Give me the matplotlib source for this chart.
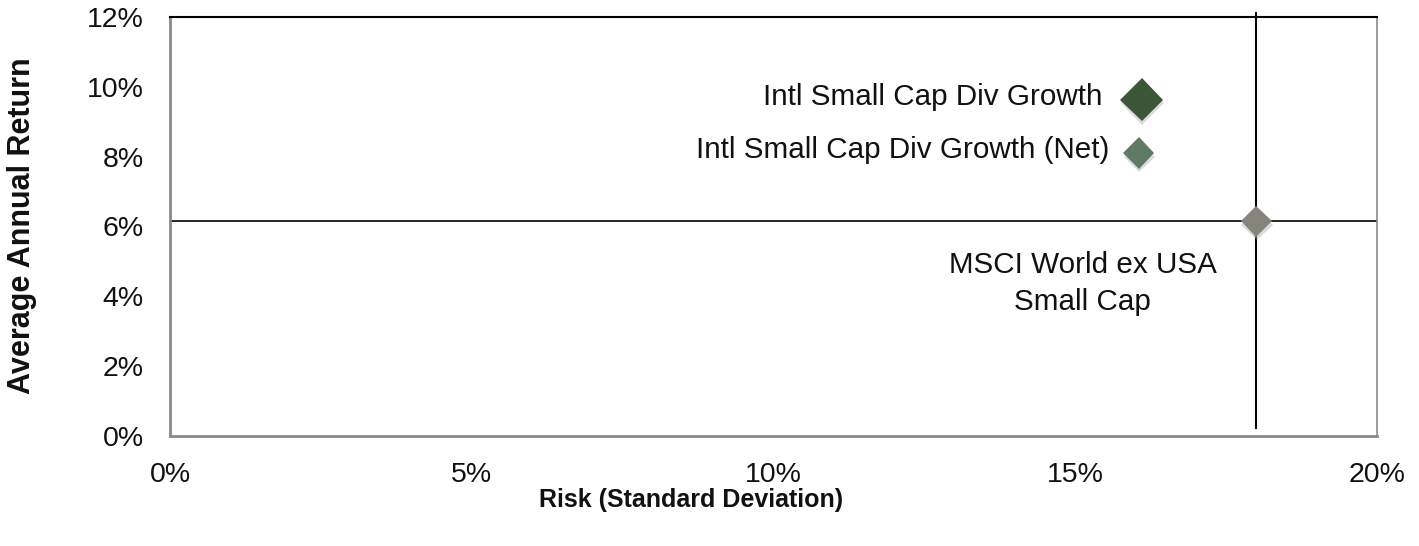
import matplotlib
matplotlib.use("Agg")
import matplotlib.pyplot as plt
import matplotlib.patheffects as pe
from matplotlib.ticker import FuncFormatter

plt.rcParams['font.family'] = ['Liberation Sans', 'DejaVu Sans']

# Data
names = ["Intl Small Cap Div Growth", "Intl Small Cap Div Growth (Net)", "MSCI World ex USA\nSmall Cap"]
risk = [16.1, 16.05, 18.0]
ret = [9.63, 8.1, 6.15]
colors = ["#3b5737", "#5f7a64", "#85857d"]
sizes = [22, 16, 16]
x_ticks = [0, 5, 10, 15, 20]
y_ticks = [0, 2, 4, 6, 8, 10, 12]

fig = plt.figure(figsize=(14.19, 5.46), dpi=100)
ax = fig.add_axes([170/1419, 1-436/546, (1377-170)/1419, (436-17)/546])

ax.set_xlim(0, 20)
ax.set_ylim(0, 12)
ax.set_xticks(x_ticks)
ax.set_yticks(y_ticks)
pct = FuncFormatter(lambda v, p: f"{v:.0f}%")
ax.xaxis.set_major_formatter(pct)
ax.yaxis.set_major_formatter(pct)
ax.tick_params(length=0, labelsize=20.5, colors="#111111")
ax.tick_params(axis='x', pad=19)
ax.tick_params(axis='y', pad=19)

for s in ["left", "bottom"]:
    ax.spines[s].set_color("#8a8a8a")
    ax.spines[s].set_linewidth(2)
ax.spines["right"].set_color("#8a8a8a")
ax.spines["right"].set_linewidth(1.2)
ax.spines["top"].set_color("#000000")
ax.spines["top"].set_linewidth(1.5)

# Reference cross lines at the benchmark
ax.axhline(ret[2], color="black", lw=1.2, zorder=2)
ax.axvline(risk[2], ymin=0.02, ymax=1.01, color="black", lw=1.5, zorder=2, clip_on=False)

shadow = [pe.SimplePatchShadow(offset=(0.5, -2.5), shadow_rgbFace="#b0b0b0", alpha=0.45), pe.Normal()]
for x, y, c, s in zip(risk, ret, colors, sizes):
    ax.plot([x], [y], marker="D", markersize=s, color=c, markeredgewidth=0,
            linestyle="none", zorder=3, path_effects=shadow)

ax.annotate(names[0], (risk[0], ret[0]), xytext=(-28, 2), textcoords="offset points",
            ha="right", va="center", fontsize=21.3, color="#111111")
ax.annotate(names[1], (risk[1], ret[1]), xytext=(-21, 2), textcoords="offset points",
            ha="right", va="center", fontsize=21.3, color="#111111")
ax.annotate(names[2], (risk[2], ret[2]), xytext=(-125, -45), textcoords="offset points",
            ha="center", va="center", fontsize=21.3, color="#111111", linespacing=1.4)

fig.text(691/1419, 1-500/546, "Risk (Standard Deviation)", ha="center", va="center",
         fontsize=18, fontweight="bold", color="#111111")
fig.text(22/1419, 1-226/546, "Average Annual Return", ha="center", va="center",
         rotation=90, fontsize=22, fontweight="bold", color="#111111")

fig.savefig("out.png", dpi=100, facecolor="white")
